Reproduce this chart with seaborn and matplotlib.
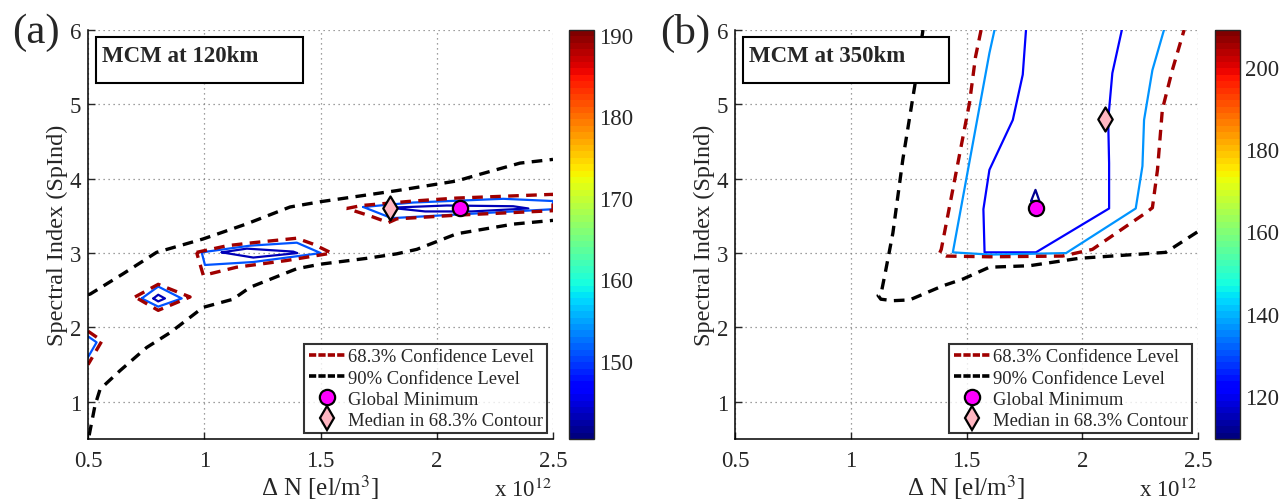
import numpy as np
import pandas as pd
import matplotlib
matplotlib.use("Agg")
import matplotlib.pyplot as plt
import seaborn as sns
from matplotlib.lines import Line2D
from matplotlib.patches import Rectangle
from matplotlib.colors import Normalize
from matplotlib.cm import ScalarMappable

# ---------------- data: panel (a) MCM at 120 km ----------------
a_black_upper_x = [0.50, 0.51, 0.65, 0.795, 0.995, 1.18, 1.369, 1.498, 1.828, 2.086, 2.186, 2.358, 2.50]
a_black_upper_y = [2.44, 2.45, 2.72, 3.01, 3.19, 3.39, 3.62, 3.69, 3.84, 3.97, 4.06, 4.21, 4.26]
a_black_lower_x = [0.505, 0.53, 0.552, 0.638, 0.752, 0.853, 0.995, 1.124, 1.197, 1.398, 1.498, 1.70, 1.828, 1.914, 2.086, 2.33, 2.50]
a_black_lower_y = [0.55, 0.95, 1.17, 1.42, 1.73, 1.93, 2.27, 2.38, 2.54, 2.79, 2.85, 2.93, 2.99, 3.05, 3.26, 3.39, 3.44]

a_red_x = [[0.50, 0.56, 0.50],
           [0.702, 0.802, 0.939, 0.802, 0.702],
           [0.967, 1.10, 1.211, 1.398, 1.469, 1.548, 1.354, 1.139, 0.996, 0.967],
           [1.613, 1.677, 1.899, 2.086, 2.50, 2.50, 2.086, 1.828, 1.792, 1.713, 1.613]]
a_red_y = [[1.95, 1.82, 1.50],
           [2.41, 2.58, 2.41, 2.23, 2.41],
           [3.01, 3.10, 3.14, 3.20, 3.12, 3.00, 2.90, 2.81, 2.70, 3.01],
           [3.60, 3.64, 3.70, 3.74, 3.79, 3.57, 3.51, 3.46, 3.41, 3.50, 3.60]]
a_blue_x = [[0.50, 0.537, 0.50],
            [0.731, 0.802, 0.903, 0.802, 0.731],
            [0.989, 1.197, 1.398, 1.501, 1.211, 1.003, 0.989],
            [1.684, 1.899, 2.286, 2.50, 2.50, 1.806, 1.684]]
a_blue_y = [[1.88, 1.80, 1.60],
            [2.39, 2.55, 2.39, 2.28, 2.39],
            [3.01, 3.10, 3.14, 3.00, 2.88, 2.84, 3.01],
            [3.62, 3.68, 3.73, 3.70, 3.59, 3.47, 3.62]]
a_navy_x = [[0.781, 0.802, 0.831, 0.802, 0.781],
            [1.075, 1.183, 1.383, 1.40, 1.211, 1.075],
            [1.799, 2.043, 2.329, 2.394, 2.15, 1.95, 1.799]]
a_navy_y = [[2.39, 2.44, 2.39, 2.35, 2.39],
            [3.01, 3.06, 3.02, 3.00, 2.94, 3.01],
            [3.61, 3.64, 3.63, 3.60, 3.56, 3.56, 3.61]]
a_levels = [143.0, 151.0]          # navy, blue contour levels
a_clim = [140.4, 190.6]
a_cticks = [150, 160, 170, 180, 190]
a_gmin = (2.1, 3.6)
a_median = (1.8, 3.6)

# ---------------- data: panel (b) MCM at 350 km ----------------
b_black_x = [1.312, 1.276, 1.225, 1.182, 1.15, 1.132, 1.118, 1.13, 1.182, 1.254, 1.398, 1.484, 1.599, 1.772, 1.987, 2.361, 2.50]
b_black_y = [6.00, 5.24, 4.26, 3.27, 2.75, 2.47, 2.43, 2.38, 2.36, 2.37, 2.56, 2.65, 2.81, 2.83, 2.93, 3.01, 3.29]
b_red_x = [1.563, 1.539, 1.513, 1.391, 1.384, 1.412, 1.60, 1.915, 2.044, 2.274, 2.303, 2.325, 2.346, 2.389, 2.44]
b_red_y = [6.00, 5.64, 5.02, 3.05, 3.00, 2.96, 2.95, 2.96, 3.05, 3.54, 3.61, 4.12, 4.93, 5.46, 6.00]
b_cyan_x = [1.621, 1.599, 1.441, 1.60, 1.93, 2.231, 2.26, 2.267, 2.303, 2.353]
b_cyan_y = [6.00, 5.69, 3.01, 2.98, 3.00, 3.60, 4.17, 4.79, 5.46, 6.00]
b_blue_x = [1.757, 1.743, 1.70, 1.599, 1.573, 1.578, 1.80, 2.116, 2.116, 2.112, 2.13, 2.171]
b_blue_y = [6.00, 5.40, 4.79, 4.12, 3.59, 3.01, 3.01, 3.60, 4.21, 4.79, 5.42, 6.00]
b_navy_x = [1.779, 1.798, 1.815, 1.779]
b_navy_y = [3.70, 3.85, 3.70, 3.70]
b_levels = [111.5, 121.0, 137.0]   # navy, blue, cyan contour levels
b_clim = [109.5, 208.9]
b_cticks = [120, 140, 160, 180, 200]
b_gmin = (1.8, 3.6)
b_median = (2.1, 4.8)

x_ticks = [0.5, 1, 1.5, 2, 2.5]
x_ticklabels = ["0.5", "1", "1.5", "2", "2.5"]
y_ticks = [1, 2, 3, 4, 5, 6]
titles = ["MCM at 120km", "MCM at 350km"]
panel_labels = ["(a)", "(b)"]
legend_labels = ["68.3% Confidence Level", "90% Confidence Level",
                 "Global Minimum", "Median in 68.3% Contour"]

# ---------------- style ----------------
sns.set_style("ticks")
plt.rcParams["font.family"] = ["Liberation Serif", "DejaVu Serif"]
plt.rcParams["mathtext.fontset"] = "stix"
plt.rcParams["xtick.direction"] = "in"
plt.rcParams["ytick.direction"] = "in"

FS = 16.5
LFS = 18
RED = "#a00000"
DASH = (0, (3.2, 2.2))
cmap = plt.get_cmap("jet", 64)

fig = plt.figure(figsize=(12.83, 5.02), dpi=100)
W, H = 1283.0, 502.0
bottom = (H - 440) / H
height = 409 / H
ax_a = fig.add_axes([88 / W, bottom, 465 / W, height])
cax_a = fig.add_axes([569 / W, bottom, 25 / W, height])
ax_b = fig.add_axes([735 / W, bottom, 463 / W, height])
cax_b = fig.add_axes([1215 / W, bottom, 25 / W, height])


def line(ax, xs, ys, color, lw, ls="-"):
    df = pd.DataFrame({"x": list(xs), "y": list(ys)})
    sns.lineplot(data=df, x="x", y="y", sort=False, estimator=None, ax=ax,
                 color=color, linewidth=lw, linestyle=ls, legend=False)


def markers(ax, gmin, med):
    sns.scatterplot(x=[gmin[0]], y=[gmin[1]], ax=ax, marker="o", s=120,
                    color="#ff00ff", edgecolor="black", linewidth=1.6, zorder=5, legend=False)
    sns.scatterplot(x=[med[0]], y=[med[1]], ax=ax, marker="d", s=150,
                    color="#ffb6c1", edgecolor="black", linewidth=1.6, zorder=5, legend=False)


def style_axes(ax, title, xlabel_right):
    ax.set_xlim(0.5, 2.5)
    ax.set_ylim(0.5, 6)
    ax.set_xticks(x_ticks)
    ax.set_xticklabels(x_ticklabels)
    ax.set_yticks(y_ticks)
    ax.tick_params(labelsize=FS, length=5, width=1, direction="in")
    ax.tick_params(axis="x", pad=8)
    ax.tick_params(axis="y", pad=5)
    ax.grid(True, linestyle=(0, (1, 3)), color="#808080", linewidth=0.9)
    for s in ["top", "right"]:
        ax.spines[s].set_visible(False)
    for s in ["left", "bottom"]:
        ax.spines[s].set_color("black")
        ax.spines[s].set_linewidth(1.1)
    ax.set_xlabel("\u0394 N [el/m$^3$]", fontsize=LFS, labelpad=1)
    ax.set_ylabel("Spectral Index (SpInd)", fontsize=17.5, labelpad=1)
    ax.add_patch(Rectangle((0.017, 0.870), 0.445, 0.113, transform=ax.transAxes,
                           facecolor="white", edgecolor="black", linewidth=1.5, zorder=6))
    ax.text(0.03, 0.937, title, transform=ax.transAxes, fontsize=16.5, fontweight="bold",
            va="center", ha="left", zorder=7)
    handles = [Line2D([], [], color=RED, lw=2.6, linestyle=(0, (2, 0.6))),
               Line2D([], [], color="black", lw=2.6, linestyle=(0, (2, 0.6))),
               Line2D([], [], color="none", marker="o", markersize=11,
                      markerfacecolor="#ff00ff", markeredgecolor="black", markeredgewidth=1.6),
               Line2D([], [], color="none", marker="d", markersize=12,
                      markerfacecolor="#ffb6c1", markeredgecolor="black", markeredgewidth=1.6)]
    leg = ax.legend(handles, legend_labels, loc="lower right", fontsize=13.4,
                    handlelength=2.0, handletextpad=0.1, borderpad=0.25, labelspacing=0.22,
                    frameon=True, fancybox=False, borderaxespad=0.3)
    leg.get_frame().set_edgecolor("black")
    leg.get_frame().set_linewidth(1.5)
    leg.set_zorder(8)
    fig.text(xlabel_right / W, 0.0, "x 10$^{12}$", fontsize=FS, ha="right", va="bottom")


def colorbar(cax, clim, ticks):
    norm = Normalize(clim[0], clim[1])
    cb = fig.colorbar(ScalarMappable(norm=norm, cmap=cmap), cax=cax)
    cb.set_ticks(ticks)
    cax.tick_params(labelsize=FS, direction="in", left=True, right=True, length=4, width=1)
    cb.outline.set_linewidth(1.0)
    return norm


# ---------------- panel (a) ----------------
norm_a = colorbar(cax_a, a_clim, a_cticks)
col_navy_a = cmap(norm_a(a_levels[0]))
col_blue_a = cmap(norm_a(a_levels[1]))
for xs, ys in zip(a_navy_x, a_navy_y):
    line(ax_a, xs, ys, col_navy_a, 1.6)
for xs, ys in zip(a_blue_x, a_blue_y):
    line(ax_a, xs, ys, col_blue_a, 1.6)
for xs, ys in zip(a_red_x, a_red_y):
    line(ax_a, xs, ys, RED, 2.4, DASH)
line(ax_a, a_black_upper_x, a_black_upper_y, "black", 2.4, DASH)
line(ax_a, a_black_lower_x, a_black_lower_y, "black", 2.4, DASH)
markers(ax_a, a_gmin, a_median)
style_axes(ax_a, titles[0], 552)

# ---------------- panel (b) ----------------
norm_b = colorbar(cax_b, b_clim, b_cticks)
line(ax_b, b_navy_x, b_navy_y, cmap(norm_b(b_levels[0])), 1.6)
line(ax_b, b_blue_x, b_blue_y, cmap(norm_b(b_levels[1])), 1.6)
line(ax_b, b_cyan_x, b_cyan_y, cmap(norm_b(b_levels[2])), 1.6)
line(ax_b, b_red_x, b_red_y, RED, 2.4, DASH)
line(ax_b, b_black_x, b_black_y, "black", 2.4, DASH)
markers(ax_b, b_gmin, b_median)
style_axes(ax_b, titles[1], 1197)

fig.text(12 / W, 1 - 33 / H, panel_labels[0], fontsize=31, ha="left", va="center")
fig.text(660 / W, 1 - 33 / H, panel_labels[1], fontsize=31, ha="left", va="center")

fig.savefig("out.png", dpi=100)
